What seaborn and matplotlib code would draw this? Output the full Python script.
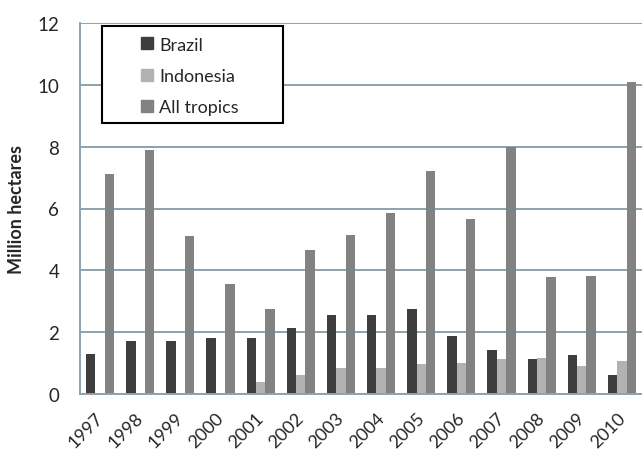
import matplotlib
matplotlib.use("Agg")
import matplotlib.pyplot as plt
from matplotlib.patches import Rectangle
from matplotlib.transforms import ScaledTranslation
import numpy as np
import pandas as pd
import seaborn as sns

years = ['1997', '1998', '1999', '2000', '2001', '2002', '2003',
         '2004', '2005', '2006', '2007', '2008', '2009', '2010']
brazil = [1.3, 1.7, 1.7, 1.8, 1.8, 2.15, 2.55, 2.55, 2.75, 1.87, 1.43, 1.13, 1.27, 0.63]
indonesia = [0.0, 0.0, 0.0, 0.0, 0.4, 0.6, 0.85, 0.85, 0.97, 1.0, 1.13, 1.16, 0.92, 1.08]
tropics = [7.1, 7.9, 5.1, 3.55, 2.75, 4.67, 5.15, 5.85, 7.2, 5.65, 8.0, 3.8, 3.83, 10.08]
series = ['Brazil', 'Indonesia', 'All tropics']
colors = ['#3e3e3e', '#b2b2b2', '#828282']

df = pd.DataFrame({'Year': years * 3,
                   'Value': brazil + indonesia + tropics,
                   'Series': np.repeat(series, len(years))})

sns.set_style('white')
plt.rcParams['font.family'] = ['Lato', 'DejaVu Sans']
grid_col = '#8ca2ad'

fig = plt.figure(figsize=(6.42, 4.52), dpi=100)
ax = fig.add_axes([80 / 642, 1 - 395 / 452, 562 / 642, 371 / 452])

sns.barplot(data=df, x='Year', y='Value', hue='Series', order=years,
            hue_order=series, palette=colors, width=0.7, saturation=1,
            edgecolor='none', ax=ax, legend=False)

ax.set_xlim(-0.5, len(years) - 0.5)
ax.set_ylim(0, 12)
ax.set_yticks(range(0, 13, 2))
ax.yaxis.grid(True, color=grid_col, linewidth=1.4)
ax.set_axisbelow(True)
for s in ['top', 'right']:
    ax.spines[s].set_visible(False)
for s in ['left', 'bottom']:
    ax.spines[s].set_color(grid_col)
    ax.spines[s].set_linewidth(1.4)

# tick marks between the years, labels on the years
ax.set_xticks(np.arange(-0.5, len(years), 1), minor=True)
ax.tick_params(axis='x', which='minor', length=6, width=1.4, color=grid_col, direction='out')
ax.tick_params(axis='x', which='major', length=0, pad=11)
ax.tick_params(axis='y', length=7, width=1.4, color=grid_col, direction='out', pad=8)
ax.set_xticks(range(len(years)))
ax.set_xticklabels(years, rotation=45, ha='right', rotation_mode='anchor', fontsize=13)
shift = ScaledTranslation(-5 / 100, 0, fig.dpi_scale_trans)
for t in ax.get_xticklabels():
    t.set_transform(t.get_transform() + shift)
for t in ax.get_yticklabels():
    t.set_fontsize(13.5)

ax.set_xlabel('')
ax.set_ylabel('Million hectares', fontsize=13, fontweight='bold', labelpad=9)

# legend box
ax.add_patch(Rectangle((0.039, 0.730), 0.322, 0.262, transform=ax.transAxes,
                       facecolor='white', edgecolor='black', linewidth=1.5, zorder=4))
handles = [plt.Rectangle((0, 0), 1, 1, color=c) for c in colors]
leg = ax.legend(handles, series, loc='upper left', bbox_to_anchor=(0.088, 0.995),
                frameon=False, fontsize=13, handlelength=0.65, handleheight=0.65,
                handletextpad=0.35, labelspacing=0.85, borderpad=0.15)
leg.set_zorder(5)

fig.savefig('out.png', dpi=100)
